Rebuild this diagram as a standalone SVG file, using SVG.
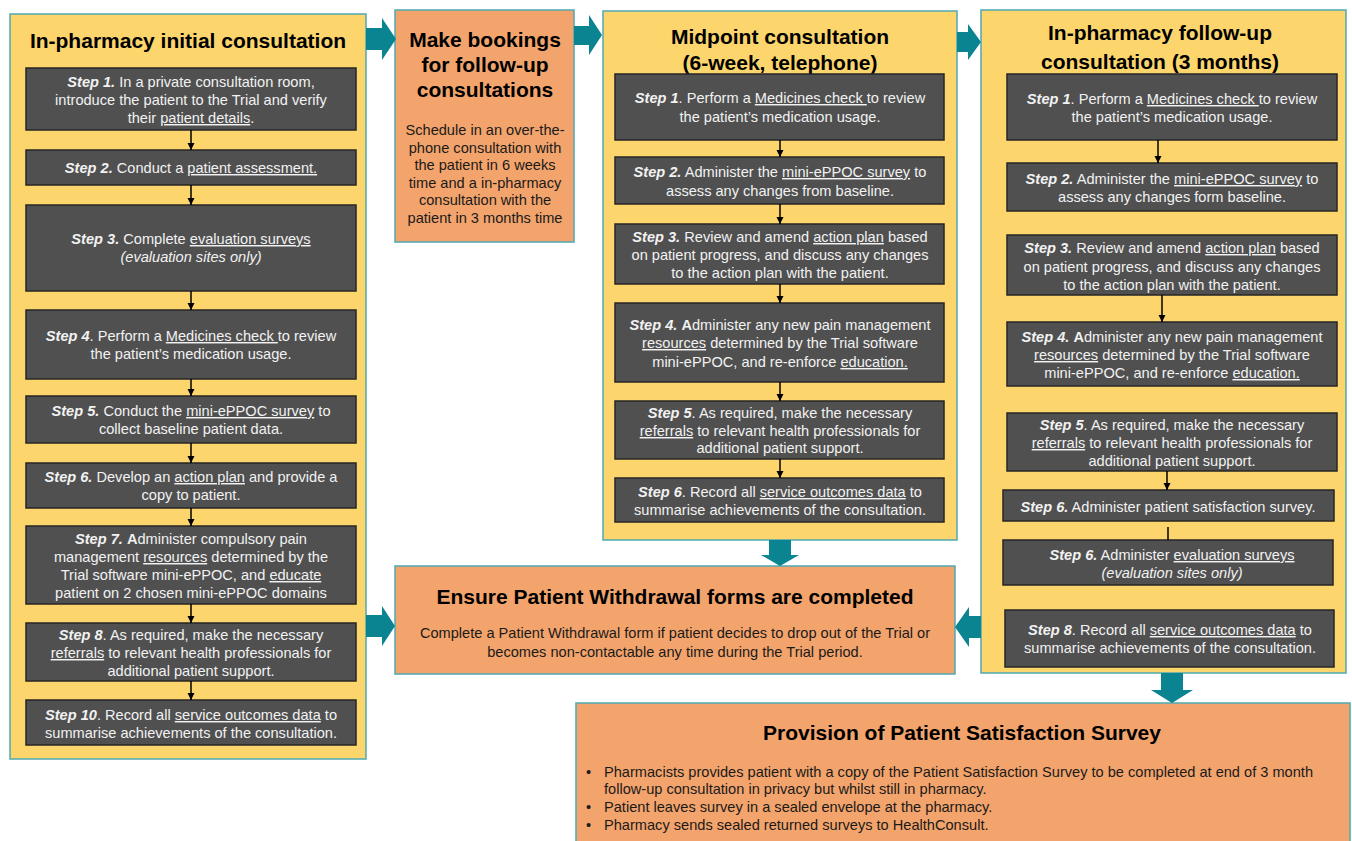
<svg xmlns="http://www.w3.org/2000/svg" width="1352" height="841" viewBox="0 0 1352 841">
<defs>
<style>
.panel{fill:#FCD56C;stroke:#4FA9B3;stroke-width:1.5}
.orange{fill:#F3A46C;stroke:#4FA9B3;stroke-width:1.5}
.step{fill:#505050;stroke:#262626;stroke-width:1.5}
.title{font-family:"Liberation Sans",Arial,sans-serif;font-weight:bold;font-size:21px;fill:#000;text-anchor:middle}
.st{font-family:"Liberation Sans",Arial,sans-serif;font-size:14.6px;fill:#F2F2F2;text-anchor:middle}
.body{font-family:"Liberation Sans",Arial,sans-serif;font-size:14.6px;fill:#1A1A1A;text-anchor:middle}
.bl{font-family:"Liberation Sans",Arial,sans-serif;font-size:14.6px;fill:#1A1A1A}
.b{font-weight:bold;font-style:italic}
.bo{font-weight:bold}
.i{font-style:italic}
.u{text-decoration:underline}
.teal{fill:#0B8491}
.con{stroke:#000;stroke-width:1.5;fill:none}
</style>
<marker id="ah" viewBox="0 0 10 10" refX="10" refY="5" markerWidth="5" markerHeight="5" orient="auto" markerUnits="strokeWidth">
<path d="M0,0 L10,5 L0,10 z" fill="#000"/>
</marker>
</defs>
<rect width="1352" height="841" fill="#FFFFFF"/>

<g id="initial-consultation">
<rect class="panel" x="10" y="14" width="356" height="745"/>
<text class="title" x="188" y="48">In-pharmacy  initial  consultation</text>
</g>
<g id="init-step1"><rect class="step" x="26" y="68" width="330" height="62"/>
<text class="st" x="191" y="87"><tspan class="b">Step 1.</tspan> In a private consultation room,</text>
<text class="st" x="191" y="105">introduce the patient to the Trial and verify</text>
<text class="st" x="191" y="123">their <tspan class="u">patient details</tspan>.</text></g>
<g id="init-step2"><rect class="step" x="26" y="150" width="330" height="35"/>
<text class="st" x="191" y="173"><tspan class="b">Step 2.</tspan> Conduct a <tspan class="u">patient assessment.</tspan></text></g>
<g id="init-step3"><rect class="step" x="26" y="205" width="330" height="86"/>
<text class="st" x="191" y="244"><tspan class="b">Step 3.</tspan> Complete <tspan class="u">evaluation surveys</tspan></text>
<text class="st i" x="191" y="262">(evaluation sites only)</text></g>
<g id="init-step4"><rect class="step" x="26" y="310" width="330" height="69"/>
<text class="st" x="191" y="341"><tspan class="b">Step 4</tspan>. Perform a <tspan class="u">Medicines check </tspan>to review</text>
<text class="st" x="191" y="359">the patient’s medication usage.</text></g>
<g id="init-step5"><rect class="step" x="26" y="396" width="330" height="47"/>
<text class="st" x="191" y="416"><tspan class="b">Step 5.</tspan> Conduct the <tspan class="u">mini-ePPOC survey</tspan> to</text>
<text class="st" x="191" y="434">collect baseline patient data.</text></g>
<g id="init-step6"><rect class="step" x="26" y="463" width="330" height="45"/>
<text class="st" x="191" y="482"><tspan class="b">Step 6.</tspan> Develop an <tspan class="u">action plan</tspan> and provide a</text>
<text class="st" x="191" y="500">copy to patient.</text></g>
<g id="init-step7"><rect class="step" x="26" y="526" width="330" height="78"/>
<text class="st" x="191" y="544"><tspan class="b">Step 7. </tspan><tspan class="bo">A</tspan>dminister compulsory pain</text>
<text class="st" x="191" y="562">management <tspan class="u">resources</tspan> determined by the</text>
<text class="st" x="191" y="580">Trial software mini-ePPOC, and <tspan class="u">educate</tspan></text>
<text class="st" x="191" y="598">patient on 2 chosen mini-ePPOC domains</text></g>
<g id="init-step8"><rect class="step" x="26" y="623" width="330" height="58"/>
<text class="st" x="191" y="640"><tspan class="b">Step 8</tspan>. As required, make the necessary</text>
<text class="st" x="191" y="658"><tspan class="u">referrals</tspan> to relevant health professionals for</text>
<text class="st" x="191" y="676">additional patient support.</text></g>
<g id="init-step10"><rect class="step" x="26" y="700" width="330" height="45"/>
<text class="st" x="191" y="720"><tspan class="b">Step 10</tspan>. Record all <tspan class="u">service outcomes data</tspan> to</text>
<text class="st" x="191" y="738">summarise achievements of the consultation.</text></g>

<g id="bookings">
<rect class="orange" x="395" y="10" width="179" height="232"/>
<text class="title" x="485" y="47">Make bookings</text>
<text class="title" x="485" y="72">for follow-up</text>
<text class="title" x="485" y="97">consultations</text>
<text class="body" x="485" y="135">Schedule in an over-the-</text>
<text class="body" x="485" y="153">phone consultation with</text>
<text class="body" x="485" y="170">the patient in 6 weeks</text>
<text class="body" x="485" y="188">time and a in-pharmacy</text>
<text class="body" x="485" y="205">consultation with the</text>
<text class="body" x="485" y="223">patient in 3 months time</text>
</g>

<g id="midpoint-consultation">
<rect class="panel" x="603" y="11" width="354" height="529"/>
<text class="title" x="780" y="44">Midpoint consultation</text>
<text class="title" x="780" y="70">(6-week, telephone)</text>
</g>
<g id="mid-step1"><rect class="step" x="615" y="74" width="329" height="66"/>
<text class="st" x="780" y="103"><tspan class="b">Step 1</tspan>. Perform a <tspan class="u">Medicines check </tspan>to review</text>
<text class="st" x="780" y="122">the patient’s medication usage.</text></g>
<g id="mid-step2"><rect class="step" x="615" y="157" width="329" height="47"/>
<text class="st" x="780" y="177"><tspan class="b">Step 2.</tspan> Administer the <tspan class="u">mini-ePPOC survey</tspan> to</text>
<text class="st" x="780" y="196">assess any changes from baseline.</text></g>
<g id="mid-step3"><rect class="step" x="615" y="224" width="329" height="60"/>
<text class="st" x="780" y="242"><tspan class="b">Step 3.</tspan> Review and amend <tspan class="u">action plan</tspan> based</text>
<text class="st" x="780" y="260">on patient progress, and discuss any changes</text>
<text class="st" x="780" y="278">to the action plan with the patient.</text></g>
<g id="mid-step4"><rect class="step" x="615" y="303" width="329" height="79"/>
<text class="st" x="780" y="330"><tspan class="b">Step 4. </tspan><tspan class="bo">A</tspan>dminister any new pain management</text>
<text class="st" x="780" y="348"><tspan class="u">resources</tspan> determined by the Trial software</text>
<text class="st" x="780" y="367">mini-ePPOC, and re-enforce <tspan class="u">education.</tspan></text></g>
<g id="mid-step5"><rect class="step" x="615" y="401" width="329" height="58"/>
<text class="st" x="780" y="418"><tspan class="b">Step 5</tspan>. As required, make the necessary</text>
<text class="st" x="780" y="436"><tspan class="u">referrals</tspan> to relevant health professionals for</text>
<text class="st" x="780" y="453">additional patient support.</text></g>
<g id="mid-step6"><rect class="step" x="615" y="478" width="329" height="44"/>
<text class="st" x="780" y="497"><tspan class="b">Step 6</tspan>. Record all <tspan class="u">service outcomes data</tspan> to</text>
<text class="st" x="780" y="515">summarise achievements of the consultation.</text></g>

<g id="followup-consultation">
<rect class="panel" x="981" y="10" width="365" height="663"/>
<text class="title" x="1160" y="40">In-pharmacy  follow-up</text>
<text class="title" x="1160" y="69">consultation  (3 months)</text>
</g>
<g id="fu-step1"><rect class="step" x="1007" y="74" width="330" height="66"/>
<text class="st" x="1172" y="104"><tspan class="b">Step 1</tspan>. Perform a <tspan class="u">Medicines check </tspan>to review</text>
<text class="st" x="1172" y="122">the patient’s medication usage.</text></g>
<g id="fu-step2"><rect class="step" x="1007" y="163" width="330" height="48"/>
<text class="st" x="1172" y="184"><tspan class="b">Step 2.</tspan> Administer the <tspan class="u">mini-ePPOC survey</tspan> to</text>
<text class="st" x="1172" y="202">assess any changes form baseline.</text></g>
<g id="fu-step3"><rect class="step" x="1007" y="235" width="330" height="60"/>
<text class="st" x="1172" y="253"><tspan class="b">Step 3.</tspan> Review and amend <tspan class="u">action plan</tspan> based</text>
<text class="st" x="1172" y="272">on patient progress, and discuss any changes</text>
<text class="st" x="1172" y="290">to the action plan with the patient.</text></g>
<g id="fu-step4"><rect class="step" x="1007" y="322" width="330" height="64"/>
<text class="st" x="1172" y="342"><tspan class="b">Step 4. </tspan><tspan class="bo">A</tspan>dminister any new pain management</text>
<text class="st" x="1172" y="360"><tspan class="u">resources</tspan> determined by the Trial software</text>
<text class="st" x="1172" y="378">mini-ePPOC, and re-enforce <tspan class="u">education.</tspan></text></g>
<g id="fu-step5"><rect class="step" x="1007" y="413" width="330" height="58"/>
<text class="st" x="1172" y="430"><tspan class="b">Step 5</tspan>. As required, make the necessary</text>
<text class="st" x="1172" y="448"><tspan class="u">referrals</tspan> to relevant health professionals for</text>
<text class="st" x="1172" y="466">additional patient support.</text></g>
<g id="fu-step6a"><rect class="step" x="1003" y="490" width="331" height="31"/>
<text class="st" x="1168" y="512"><tspan class="b">Step 6.</tspan> Administer patient satisfaction survey.</text></g>
<g id="fu-step6b"><rect class="step" x="1003" y="540" width="330" height="45"/>
<text class="st" x="1172" y="560"><tspan class="b">Step 6.</tspan> Administer  <tspan class="u">evaluation surveys</tspan></text>
<text class="st i" x="1172" y="578">(evaluation sites only)</text></g>
<g id="fu-step8"><rect class="step" x="1005" y="610" width="329" height="57"/>
<text class="st" x="1170" y="635"><tspan class="b">Step 8</tspan>. Record all <tspan class="u">service outcomes data</tspan> to</text>
<text class="st" x="1170" y="653">summarise achievements of the consultation.</text></g>

<g id="withdrawal">
<rect class="orange" x="395" y="566" width="560" height="108"/>
<text class="title" x="675" y="604">Ensure Patient Withdrawal forms are completed</text>
<text class="body" x="675" y="638">Complete a Patient Withdrawal form if patient decides to drop out of the Trial or</text>
<text class="body" x="675" y="657">becomes non-contactable any time during the Trial period.</text>
</g>

<g id="satisfaction-survey">
<rect class="orange" x="576" y="703" width="774" height="150"/>
<text class="title" x="962" y="740">Provision of Patient Satisfaction Survey</text>
<text class="bl" x="586" y="777">•</text>
<text class="bl" x="604" y="777">Pharmacists provides patient with a copy of the Patient Satisfaction Survey to be completed at end of 3 month</text>
<text class="bl" x="604" y="794">follow-up consultation in privacy but whilst still in pharmacy.</text>
<text class="bl" x="586" y="812">•</text>
<text class="bl" x="604" y="812">Patient leaves survey in a sealed envelope at the pharmacy.</text>
<text class="bl" x="586" y="830">•</text>
<text class="bl" x="604" y="830">Pharmacy sends sealed returned surveys to HealthConsult.</text>
</g>

<g id="connectors">
<line class="con" x1="191" y1="130" x2="191" y2="150" marker-end="url(#ah)"/>
<line class="con" x1="191" y1="185" x2="191" y2="205" marker-end="url(#ah)"/>
<line class="con" x1="191" y1="291" x2="191" y2="310" marker-end="url(#ah)"/>
<line class="con" x1="191" y1="379" x2="191" y2="396" marker-end="url(#ah)"/>
<line class="con" x1="191" y1="443" x2="191" y2="463" marker-end="url(#ah)"/>
<line class="con" x1="191" y1="508" x2="191" y2="526" marker-end="url(#ah)"/>
<line class="con" x1="191" y1="604" x2="191" y2="623" marker-end="url(#ah)"/>
<line class="con" x1="191" y1="681" x2="191" y2="700" marker-end="url(#ah)"/>
<line class="con" x1="780" y1="140" x2="780" y2="157" marker-end="url(#ah)"/>
<line class="con" x1="780" y1="204" x2="780" y2="224" marker-end="url(#ah)"/>
<line class="con" x1="780" y1="284" x2="780" y2="303" marker-end="url(#ah)"/>
<line class="con" x1="780" y1="382" x2="780" y2="401" marker-end="url(#ah)"/>
<line class="con" x1="780" y1="459" x2="780" y2="478" marker-end="url(#ah)"/>
<line class="con" x1="1158" y1="140" x2="1158" y2="163" marker-end="url(#ah)"/>
<line class="con" x1="1162" y1="295" x2="1162" y2="322" marker-end="url(#ah)"/>
<line class="con" x1="1167" y1="471" x2="1167" y2="490" marker-end="url(#ah)"/>
<line class="con" x1="1168" y1="527" x2="1168" y2="540"/>
<polygon class="teal" points="366,28 382,28 382,18 396,39 382,60 382,50 366,50"/>
<polygon class="teal" points="574,26 589,26 589,15 602,35 589,55 589,45 574,45"/>
<polygon class="teal" points="957,32 968,32 968,24 981,42 968,60 968,52 957,52"/>
<polygon class="teal" points="769,540 791,540 791,555 799,555 780,566 761,555 769,555"/>
<polygon class="teal" points="366,615 382,615 382,606 395,626 382,646 382,637 366,637"/>
<polygon class="teal" points="981,616 969,616 969,607 955,627 969,647 969,638 981,638"/>
<polygon class="teal" points="1161,673 1183,673 1183,690 1193,690 1172,703 1151,690 1161,690"/>
</g>
</svg>
